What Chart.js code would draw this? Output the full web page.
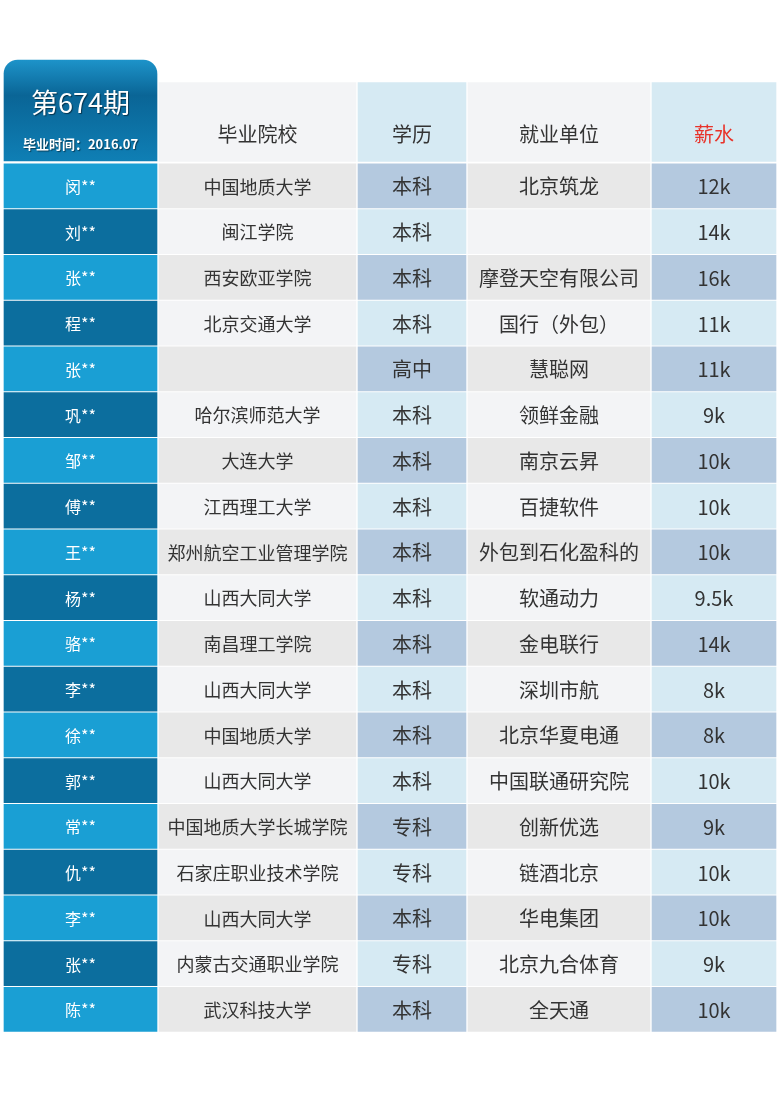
<!DOCTYPE html>
<html><head><meta charset="utf-8">
<script src="https://cdn.jsdelivr.net/npm/chart.js@4.4.1/dist/chart.umd.min.js"></script>
<style>html,body{margin:0;padding:0;background:#fff}#c{display:block}</style>
</head><body>
<div style="width:780px;height:1103px"><canvas id="c"></canvas></div>
<script>
const headers = ['', '毕业院校', '学历', '就业单位', '薪水'];
const names = ['闵**','刘**','张**','程**','张**','巩**','邹**','傅**','王**','杨**','骆**','李**','徐**','郭**','常**','仇**','李**','张**','陈**'];
const schools = ['中国地质大学','闽江学院','西安欧亚学院','北京交通大学','','哈尔滨师范大学','大连大学','江西理工大学','郑州航空工业管理学院','山西大同大学','南昌理工学院','山西大同大学','中国地质大学','山西大同大学','中国地质大学长城学院','石家庄职业技术学院','山西大同大学','内蒙古交通职业学院','武汉科技大学'];
const degrees = ['本科','本科','本科','本科','高中','本科','本科','本科','本科','本科','本科','本科','本科','本科','专科','专科','本科','专科','本科'];
const companies = ['北京筑龙','','摩登天空有限公司','国行（外包）','慧聪网','领鲜金融','南京云昇','百捷软件','外包到石化盈科的','软通动力','金电联行','深圳市航','北京华夏电通','中国联通研究院','创新优选','链酒北京','华电集团','北京九合体育','全天通'];
const salaries = ['12k','14k','16k','11k','11k','9k','10k','10k','10k','9.5k','14k','8k','8k','10k','9k','10k','10k','9k','10k'];

const COLS = [[4,157],[159,356],[358,466],[468,650],[652,776]];
const ROW0 = 163, ROWH = 45.75, TH = 44;
const FONT = '"Noto Sans CJK SC", "Noto Sans", sans-serif';
const cols = [names, schools, degrees, companies, salaries];
const oddC = ['#1a9fd4','#e8e8e8','#b4c9df','#e8e8e8','#b4c9df'];
const evenC = ['#0c6e9e','#f3f4f6','#d6eaf3','#f3f4f6','#d6eaf3'];
const headC = ['#0c6e9e','#f3f4f6','#d6eaf3','#f3f4f6','#d6eaf3'];

const datasets = [];
cols.forEach((arr, ci) => {
  datasets.push({
    label: 'c'+ci, texts: arr, ci: ci,
    data: arr.map((v, i) => ({x: COLS[ci], y: ROW0 + ROWH*i + ROWH/2})),
    backgroundColor: arr.map((v, i) => i % 2 === 0 ? oddC[ci] : evenC[ci]),
    barThickness: TH, borderSkipped: false, grouped: false
  });
});
datasets.push({
  label: 'head', texts: headers, head: true,
  data: [1,2,3,4].map(ci => ({x: COLS[ci], y: 122})),
  backgroundColor: [1,2,3,4].map(ci => headC[ci]),
  barThickness: 79, borderSkipped: false, grouped: false
});
datasets.push({
  label: 'badge', texts: ['第674期'], badge: true,
  data: [{x: COLS[0], y: 110.5}],
  backgroundColor: (ctx) => {
    const c = ctx.chart.ctx; const g = c.createLinearGradient(0, 60, 0, 161);
    g.addColorStop(0, '#1d93c9'); g.addColorStop(0.35, '#0a6596'); g.addColorStop(1, '#0f7fb5');
    return g;
  },
  barThickness: 101, borderSkipped: false, grouped: false,
  borderRadius: {topLeft: 14, topRight: 14, bottomLeft: 0, bottomRight: 0}
});

const textPlugin = {
  id: 'txt',
  afterDatasetsDraw(chart) {
    const ctx = chart.ctx;
    chart.data.datasets.forEach((ds, di) => {
      const meta = chart.getDatasetMeta(di);
      meta.data.forEach((el, i) => {
        const cx = (el.x + el.base) / 2, cy = el.y;
        ctx.save(); ctx.textAlign = 'center'; ctx.textBaseline = 'middle';
        if (ds.badge) {
          ctx.fillStyle = '#fff';
          ctx.shadowColor = 'rgba(0,0,0,0.5)'; ctx.shadowOffsetX = 1; ctx.shadowOffsetY = 1; ctx.shadowBlur = 1;
          ctx.font = '27px ' + FONT;
          ctx.fillText(ds.texts[0], cx, cy - 8);
          ctx.font = 'bold 13px ' + FONT;
          ctx.fillText('毕业时间：2016.07', cx, cy + 34);
        } else if (ds.head) {
          const t = ds.texts[i+1];
          ctx.fillStyle = t === '薪水' ? '#e8332a' : '#333';
          ctx.font = '20px ' + FONT;
          ctx.fillText(t, cx, cy + 12);
        } else {
          const ci = ds.ci;
          ctx.fillStyle = ci === 0 ? '#fff' : '#333';
          ctx.font = (ci === 0 ? '16px ' : ci === 1 ? '18px ' : '20px ') + FONT;
          ctx.fillText(ds.texts[i], cx, cy + 1);
        }
        ctx.restore();
      });
    });
  }
};

new Chart(document.getElementById('c'), {
  type: 'bar',
  data: { datasets },
  options: {
    indexAxis: 'y', responsive: true, maintainAspectRatio: false, animation: false,
    layout: { padding: 0 },
    plugins: { legend: {display: false}, tooltip: {enabled: false} },
    scales: {
      x: { type: 'linear', min: 0, max: 780, display: false, offset: false },
      y: { type: 'linear', min: 0, max: 1103, reverse: true, display: false, offset: false }
    }
  },
  plugins: [textPlugin]
});
</script>
</body></html>
